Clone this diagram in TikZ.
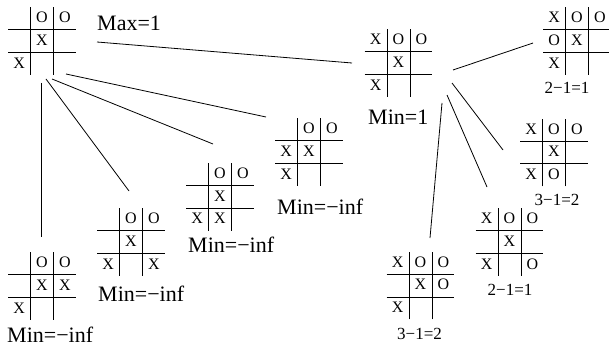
\documentclass[tikz,border=0pt]{standalone}
\usepackage{fontspec}
\setmainfont{Liberation Serif}
\usepackage{array}
\setlength{\arrayrulewidth}{0.8pt}
\setlength{\tabcolsep}{0pt}
% one tic-tac-toe position
\newcommand{\brd}[9]{\begin{tabular}{w{c}{22pt}|w{c}{22pt}|w{c}{22pt}}#1&#2&#3\\\hline #4&#5&#6\\\hline #7&#8&#9\end{tabular}}
\begin{document}
\begin{tikzpicture}[x = 1pt, y = -1pt,
		board/.style = {inner sep = 0pt, font = \fontsize{16}{22}\selectfont},
		minlbl/.style = {inner sep = 0pt, anchor = west, font = \fontsize{22}{26}\selectfont},
		cntlbl/.style = {inner sep = 0pt, font = \fontsize{17}{20}\selectfont}]
			\useasboundingbox (0, 0) rectangle (609, 347);
			\node[board] (b0) at (42, 41) {\brd{}{O}{O}{}{X}{}{X}{}{}};
			\node[board] (b1) at (398.5, 63) {\brd{X}{O}{O}{}{X}{}{X}{}{}};
			\node[board] (b2) at (577, 41) {\brd{X}{O}{O}{O}{X}{}{X}{}{}};
			\node[board] (b3) at (554, 152.5) {\brd{X}{O}{O}{}{X}{}{X}{O}{}};
			\node[board] (b4) at (509.5, 242) {\brd{X}{O}{O}{}{X}{}{X}{}{O}};
			\node[board] (b5) at (420.5, 285.5) {\brd{X}{O}{O}{}{X}{O}{X}{}{}};
			\node[board] (b6) at (42, 286) {\brd{}{O}{O}{}{X}{X}{X}{}{}};
			\node[board] (b7) at (131, 242) {\brd{}{O}{O}{}{X}{}{X}{}{X}};
			\node[board] (b8) at (220, 196.7) {\brd{}{O}{O}{}{X}{}{X}{X}{}};
			\node[board] (b9) at (309, 152) {\brd{}{O}{O}{X}{X}{}{X}{}{}};
			% values
			\node[minlbl] (v0) at (97, 23.5) {Max=1};
			\node[minlbl] (v1) at (368, 117.5) {Min=1};
			\node[minlbl] (v9) at (277, 207) {Min=−inf};
			\node[minlbl] (v8) at (188, 245) {Min=−inf};
			\node[minlbl] (v7) at (98, 294) {Min=−inf};
			\node[minlbl] (v6) at (7, 335) {Min=−inf};
			\node[cntlbl] (v2) at (567, 88) {2−1=1};
			\node[cntlbl] (v3) at (557, 200) {3−1=2};
			\node[cntlbl] (v4) at (510, 290) {2−1=1};
			\node[cntlbl] (v5) at (419.5, 334) {3−1=2};
			% moves
			\foreach \a/\p/\b/\q in {b0/{-1,42}/b6/{-1,-49}, b0/{4,38}/b7/{-2,-51}, b0/{10,38}/b8/{-7,-52.7},
				b0/{24,33}/b9/{-43,-35}, b0/{55,1}/b1/{-46.5,0}, b1/{43.5,40}/b5/{9.5,-47.5},
				b1/{48.5,32}/b4/{-22.5,-55}, b1/{53.5,20}/b3/{-51,-2.5}, b1/{54.5,7}/b2/{-44,2}}
			\draw[line width = .8pt] ([shift = {(\p)}]\a.center)--([shift = {(\q)}]\b.center);
		\end{tikzpicture}
\end{document}
